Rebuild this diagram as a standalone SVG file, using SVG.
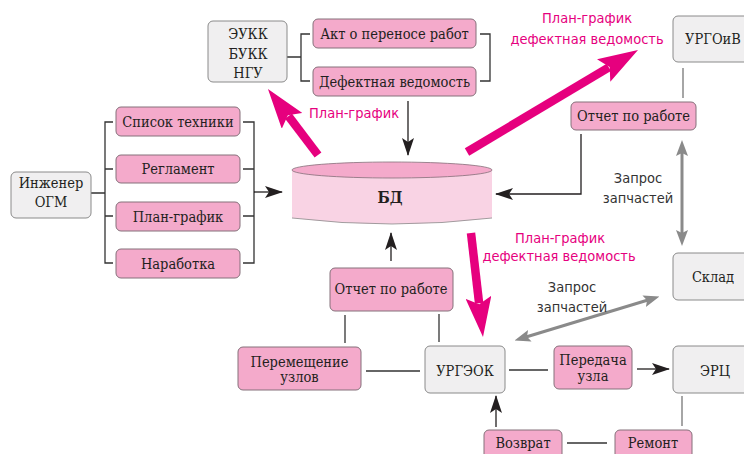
<svg xmlns="http://www.w3.org/2000/svg" width="744" height="454" viewBox="0 0 744 454">
<style>
.pk{fill:#f4aacb;stroke:#85707a;stroke-width:1}
.gr{fill:#f0eff0;stroke:#8a8a8a;stroke-width:1}
.t{font-family:"DejaVu Serif Condensed","DejaVu Serif",serif;font-size:14.5px;fill:#231f20;text-anchor:middle}
.lb{font-family:"DejaVu Sans Condensed","DejaVu Sans",sans-serif;font-size:14.5px;fill:#e6007e;text-anchor:middle}
.lg{font-family:"DejaVu Sans Condensed","DejaVu Sans",sans-serif;font-size:14.5px;fill:#333;text-anchor:middle}
.ln{fill:none;stroke:#333;stroke-width:1.3}
.lgr{fill:none;stroke:#888;stroke-width:1.5}
.blk{fill:none;stroke:#231f20;stroke-width:1.3;marker-end:url(#ab)}
.mag{fill:none;stroke:#e6007e;stroke-width:8.5;marker-end:url(#am)}
.gd{fill:none;stroke:#8a8a8a;stroke-width:3;marker-start:url(#ags);marker-end:url(#ag)}
</style>
<defs>
<marker id="ab" viewBox="0 0 18 12" refX="17" refY="6" markerWidth="18" markerHeight="12" markerUnits="userSpaceOnUse" orient="auto"><path d="M0,0 L18,6 L0,12 L4,6 Z" fill="#231f20"/></marker>
<marker id="am" viewBox="0 0 40 26" refX="6" refY="13" markerWidth="40" markerHeight="26" markerUnits="userSpaceOnUse" orient="auto"><path d="M0,0 L40,13 L0,26 L7,13 Z" fill="#e6007e"/></marker>
<marker id="ag" viewBox="0 0 16 12" refX="4" refY="6" markerWidth="16" markerHeight="12" markerUnits="userSpaceOnUse" orient="auto"><path d="M0,0 L16,6 L0,12 L3,6 Z" fill="#8a8a8a"/></marker>
<marker id="ags" viewBox="0 0 16 12" refX="12" refY="6" markerWidth="16" markerHeight="12" markerUnits="userSpaceOnUse" orient="auto"><path d="M16,0 L0,6 L16,12 L13,6 Z" fill="#8a8a8a"/></marker>
</defs>

<g id="connectors">
  <path class="ln" d="M287,57 H301 M310,34 H301 V81 H310 M480,34 H490 V81 H480"/>
  <line class="blk" x1="408" y1="101" x2="408" y2="155"/>
  <path class="ln" d="M91,193 H105 M113,122 H105 V263 H113 M105,169 H113 M105,216 H113"/>
  <path class="ln" d="M243,122 H254 V263 H243 M243,169 H254 M243,216 H254"/>
  <line class="blk" x1="254" y1="192" x2="282" y2="192"/>
  <line class="mag" x1="318" y1="155" x2="288.5" y2="116.1"/>
  <line class="mag" x1="467" y1="152" x2="608.8" y2="67.4"/>
  <line class="mag" x1="471" y1="233" x2="479.1" y2="303.2"/>
  <line class="lgr" x1="683" y1="68" x2="683" y2="98"/>
  <path class="blk" d="M581,134 V194 H496"/>
  <line class="gd" x1="682" y1="152" x2="682" y2="234"/>
  <line class="gd" x1="648" y1="300" x2="526" y2="337"/>
  <line class="blk" x1="391" y1="261" x2="391" y2="233"/>
  <line class="ln" x1="345" y1="315" x2="345" y2="343"/>
  <line class="ln" x1="439" y1="314" x2="439" y2="342"/>
  <line class="ln" x1="366" y1="371" x2="420" y2="371"/>
  <line class="ln" x1="509" y1="370" x2="548" y2="370"/>
  <line class="blk" x1="637" y1="369" x2="669" y2="369"/>
  <line class="lgr" x1="682" y1="396" x2="682" y2="426"/>
  <line class="ln" x1="567" y1="443" x2="607" y2="443"/>
  <line class="blk" x1="496" y1="427" x2="496" y2="396"/>
</g>

<g id="labels">
  <text class="lb" x="354" y="118">План-график</text>
  <text class="lb" x="587" y="23">План-график</text>
  <text class="lb" x="587" y="44">дефектная ведомость</text>
  <text class="lb" x="560" y="243">План-график</text>
  <text class="lb" x="559" y="261">дефектная ведомость</text>
  <text class="lg" x="638" y="183">Запрос</text>
  <text class="lg" x="638" y="203">запчастей</text>
  <text class="lg" x="572" y="292">Запрос</text>
  <text class="lg" x="572" y="312">запчастей</text>
</g>

<g id="n-eukk"><rect class="gr" x="208" y="21" width="79" height="61" rx="5"/><text class="t" x="248" y="39">ЭУКК</text><text class="t" x="248" y="59">БУКК</text><text class="t" x="248" y="78">НГУ</text></g>
<g id="n-akt"><rect class="pk" x="313" y="19" width="163" height="29" rx="5"/><text class="t" x="394.5" y="39">Акт о переносе работ</text></g>
<g id="n-defekt"><rect class="pk" x="313" y="67" width="163" height="29" rx="5"/><text class="t" x="394.5" y="87">Дефектная ведомость</text></g>
<g id="n-inzh"><rect class="gr" x="11" y="172" width="80" height="46" rx="5"/><text class="t" x="51" y="188">Инженер</text><text class="t" x="51" y="207">ОГМ</text></g>
<g id="n-spisok"><rect class="pk" x="116" y="107" width="124" height="29" rx="5"/><text class="t" x="178" y="127">Список техники</text></g>
<g id="n-reglament"><rect class="pk" x="116" y="155" width="124" height="28" rx="5"/><text class="t" x="178" y="174">Регламент</text></g>
<g id="n-plan"><rect class="pk" x="116" y="202" width="124" height="29" rx="5"/><text class="t" x="178" y="222">План-график</text></g>
<g id="n-narabotka"><rect class="pk" x="116" y="249" width="124" height="29" rx="5"/><text class="t" x="178" y="269">Наработка</text></g>
<g id="n-bd">
  <path d="M292,170 V218 Q392,230 492,218 V170 Z" fill="#f9d3e4"/>
  <path d="M292,218 Q392,230 492,218" fill="none" stroke="#8a8a8a" stroke-width="0.8"/>
  <ellipse cx="392" cy="170" rx="100" ry="8" fill="#f4aacb" stroke="#85707a" stroke-width="0.8"/>
  <text x="390" y="203" font-family="'DejaVu Serif Condensed','DejaVu Serif',serif" font-size="16" font-weight="bold" fill="#231f20" text-anchor="middle">БД</text>
</g>
<g id="n-urgoiv"><rect class="gr" x="673" y="16" width="80" height="46" rx="5"/><text class="t" x="713" y="44">УРГОиВ</text></g>
<g id="n-otchet1"><rect class="pk" x="571" y="102" width="125" height="28" rx="5"/><text class="t" x="633.5" y="121">Отчет по работе</text></g>
<g id="n-sklad"><rect class="gr" x="673" y="253" width="80" height="47" rx="5"/><text class="t" x="713" y="282">Склад</text></g>
<g id="n-otchet2"><rect class="pk" x="330" y="268" width="123" height="43" rx="5"/><text class="t" x="391" y="294">Отчет по работе</text></g>
<g id="n-perem"><rect class="pk" x="238" y="347" width="123" height="43" rx="5"/><text class="t" x="299.5" y="367">Перемещение</text><text class="t" x="299.5" y="382">узлов</text></g>
<g id="n-urgeok"><rect class="gr" x="425" y="346" width="80" height="47" rx="5"/><text class="t" x="465" y="376">УРГЭОК</text></g>
<g id="n-peredacha"><rect class="pk" x="554" y="346" width="78" height="43" rx="5"/><text class="t" x="593" y="365">Передача</text><text class="t" x="593" y="381">узла</text></g>
<g id="n-erc"><rect class="gr" x="673" y="346" width="80" height="47" rx="5"/><text class="t" x="715" y="376">ЭРЦ</text></g>
<g id="n-remont"><rect class="pk" x="615" y="430" width="77" height="30" rx="5"/><text class="t" x="653" y="448">Ремонт</text></g>
<g id="n-vozvrat"><rect class="pk" x="484" y="430" width="78" height="30" rx="5"/><text class="t" x="523" y="448">Возврат</text></g>
</svg>
